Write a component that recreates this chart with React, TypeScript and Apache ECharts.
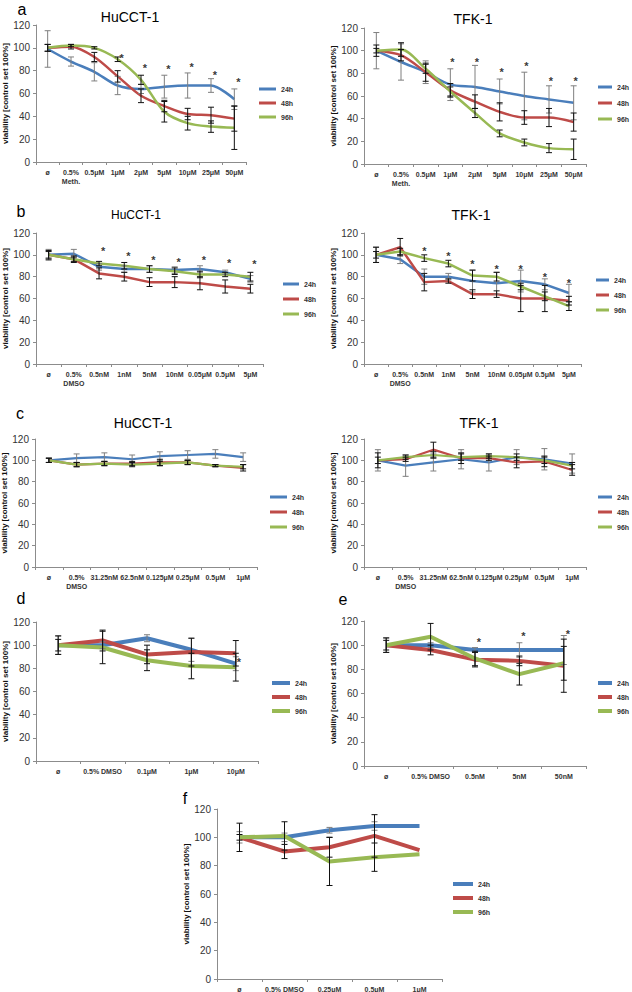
import React, { useEffect, useRef } from "react";
import * as echarts from "echarts";

const C24 = "#4A7EBB";
const C48 = "#BE4B48";
const C96 = "#98B954";
const FONT = "Liberation Sans, Arial, sans-serif";
const NAMES = ["24h", "48h", "96h"];
const Y_NAME = "viability [control set 100%]";

// ---- Panel a (HuCCT-1 / TFK-1)
const catsA = ["ø", "0.5%\nMeth.", "0.5μM", "1μM", "2μM", "5μM", "10μM", "25μM", "50μM"];
const aHu24 = [99, 88, 79, 67, 64, 66, 67, 67, 55];
const aHu48 = [100, 101, 92, 75, 58, 49, 42, 41, 38];
const aHu96 = [100, 102, 100, 90, 72, 44, 34, 31, 30];
const aHuErr24 = [16, 4, 8, 8, 4, 10, 11, 6, 9];
const aHuErr48 = [3, 2, 4, 5, 6, 5, 5, 7, 11];
const aHuErr96 = [3, 1, 1, 2, 4, 9, 6, 5, 19];
const aHuStars = [null, null, null, 94, 85, 84, 86, 79, 73];

const aTf24 = [100, 90, 81, 70, 68, 64, 60, 57, 54];
const aTf48 = [100, 96, 81, 65, 55, 46, 41, 41, 37];
const aTf96 = [100, 101, 84, 64, 45, 27, 19, 14, 13];
const aTfErr24 = [16, 16, 10, 14, 19, 11, 21, 12, 15];
const aTfErr48 = [5, 5, 8, 6, 6, 8, 6, 8, 8];
const aTfErr96 = [2, 6, 4, 4, 4, 3, 3, 4, 9];
const aTfStars = [null, null, null, 93, 93, 84, 89, 76, 76];

// ---- Panel b
const catsB = ["ø", "0.5%\nDMSO", "0.5nM", "1nM", "5nM", "10nM", "0.05μM", "0.5μM", "5μM"];
const bHu24 = [100, 101, 89, 87, 87, 86, 87, 84, 78];
const bHu48 = [100, 96, 83, 80, 75, 75, 74, 71, 69];
const bHu96 = [100, 96, 92, 90, 87, 85, 82, 82, 80];
const bHuErr24 = [5, 4, 3, 3, 3, 3, 3, 2, 3];
const bHuErr48 = [4, 3, 5, 4, 4, 5, 6, 6, 4];
const bHuErr96 = [3, 2, 2, 3, 3, 3, 3, 2, 4];
const bHuStars = [null, null, 106, 102, 98, 96, 98, 95, 94];

const bTf24 = [100, 96, 80, 80, 76, 74, 76, 73, 65];
const bTf48 = [100, 107, 75, 76, 64, 64, 60, 60, 58];
const bTf96 = [100, 103, 97, 92, 81, 80, 71, 62, 53];
const bTfErr24 = [7, 4, 7, 3, 10, 10, 10, 5, 8];
const bTfErr48 = [7, 8, 8, 2, 4, 3, 12, 12, 4];
const bTfErr96 = [3, 3, 3, 3, 5, 4, 3, 4, 4];
const bTfStars = [null, null, 106, 102, 94, 90, 90, 82, 77];

// ---- Panel c
const catsC = ["ø", "0.5%\nDMSO", "31.25nM", "62.5nM", "0.125μM", "0.25μM", "0.5μM", "1μM"];
const cHu24 = [100, 102, 103, 101, 104, 105, 106, 103];
const cHu48 = [100, 96, 97, 97, 98, 98, 95, 93];
const cHu96 = [100, 96, 97, 96, 97, 98, 95, 94];
const cHuErr24 = [2, 4, 4, 4, 4, 4, 4, 4];
const cHuErr48 = [2, 2, 2, 2, 3, 2, 1, 3];
const cHuErr96 = [2, 2, 2, 2, 2, 2, 1, 2];

const cTf24 = [100, 95, 98, 101, 98, 103, 101, 97];
const cTf48 = [100, 101, 110, 102, 102, 98, 99, 91];
const cTf96 = [100, 103, 105, 103, 104, 103, 100, 95];
const cTfErr24 = [10, 10, 8, 9, 8, 7, 10, 9];
const cTfErr48 = [7, 2, 7, 5, 2, 5, 5, 5];
const cTfErr96 = [3, 2, 3, 3, 2, 3, 3, 3];

// ---- Panel d
const catsD = ["ø", "0.5% DMSO", "0.1μM", "1μM", "10μM"];
const d24 = [100, 100, 106, 96, 84];
const d48 = [100, 104, 92, 94, 93];
const d96 = [100, 98, 87, 82, 81];
const dErr24 = [8, 3, 3, 10, 6];
const dErr48 = [5, 9, 8, 12, 11];
const dErr96 = [8, 14, 9, 11, 12];
const dStars = [null, null, null, null, 88];

// ---- Panel e
const catsE = ["ø", "0.5% DMSO", "0.5nM", "5nM", "50nM"];
const e24 = [100, 100, 96, 96, 96];
const e48 = [100, 96, 88, 87, 83];
const e96 = [100, 107, 89, 76, 85];
const eErr24 = [6, 2, 2, 6, 12];
const eErr48 = [6, 4, 6, 4, 22];
const eErr96 = [4, 11, 6, 9, 14];
const eStars = [null, null, 105, 110, 112];

// ---- Panel f
const catsF = ["ø", "0.5% DMSO", "0.25μM", "0,5μM", "1μM"];
const f24 = [100, 100, 105, 108, 108];
const f48 = [100, 90, 93, 101, 91];
const f96 = [100, 101, 83, 86, 88];
const fErr24 = [4, 3, 2, 3, 0];
const fErr48 = [10, 5, 7, 15, 0];
const fErr96 = [2, 10, 17, 10, 0];

type Panel = {
  cats: string[];
  vals: number[][];
  errs: number[][];
  stars: (number | null)[];
  grid: { left: number; top: number; width: number; height: number };
  smooth: boolean;
  lw: number;
  nameGap: number;
  starDx: number;
  legend: { left: number; top: number; w: number; h: number; gap: number };
};

const panels: Panel[] = [
  { cats: catsA, vals: [aHu24, aHu48, aHu96], errs: [aHuErr24, aHuErr48, aHuErr96], stars: aHuStars,
    grid: { left: 36, top: 25, width: 210, height: 137 }, smooth: true, lw: 2.5, nameGap: 26, starDx: 4,
    legend: { left: 259, top: 84, w: 17, h: 3, gap: 4 } },
  { cats: catsA, vals: [aTf24, aTf48, aTf96], errs: [aTfErr24, aTfErr48, aTfErr96], stars: aTfStars,
    grid: { left: 364, top: 28, width: 222, height: 136 }, smooth: true, lw: 2.5, nameGap: 27, starDx: 2,
    legend: { left: 598, top: 82, w: 14, h: 3, gap: 6 } },
  { cats: catsB, vals: [bHu24, bHu48, bHu96], errs: [bHuErr24, bHuErr48, bHuErr96], stars: bHuStars,
    grid: { left: 36, top: 233, width: 227, height: 131 }, smooth: false, lw: 2.5, nameGap: 25, starDx: 4,
    legend: { left: 283, top: 279, w: 16, h: 3, gap: 5 } },
  { cats: catsB, vals: [bTf24, bTf48, bTf96], errs: [bTfErr24, bTfErr48, bTfErr96], stars: bTfStars,
    grid: { left: 364, top: 233, width: 217, height: 131 }, smooth: false, lw: 2.5, nameGap: 26, starDx: 0,
    legend: { left: 596, top: 275, w: 13, h: 3, gap: 5 } },
  { cats: catsC, vals: [cHu24, cHu48, cHu96], errs: [cHuErr24, cHuErr48, cHuErr96], stars: [],
    grid: { left: 35, top: 439, width: 222, height: 128 }, smooth: false, lw: 2.2, nameGap: 25, starDx: 0,
    legend: { left: 270, top: 492, w: 17, h: 3, gap: 5 } },
  { cats: catsC, vals: [cTf24, cTf48, cTf96], errs: [cTfErr24, cTfErr48, cTfErr96], stars: [],
    grid: { left: 364, top: 439, width: 222, height: 128 }, smooth: false, lw: 2.2, nameGap: 24, starDx: 0,
    legend: { left: 598, top: 492, w: 14, h: 3, gap: 5 } },
  { cats: catsD, vals: [d24, d48, d96], errs: [dErr24, dErr48, dErr96], stars: dStars,
    grid: { left: 36, top: 622, width: 222, height: 139 }, smooth: false, lw: 4, nameGap: 25, starDx: 3,
    legend: { left: 272, top: 678, w: 18, h: 4, gap: 4 } },
  { cats: catsE, vals: [e24, e48, e96], errs: [eErr24, eErr48, eErr96], stars: eStars,
    grid: { left: 364, top: 621, width: 222, height: 145 }, smooth: false, lw: 4, nameGap: 27, starDx: 4,
    legend: { left: 598, top: 678, w: 14, h: 4, gap: 4 } },
  { cats: catsF, vals: [f24, f48, f96], errs: [fErr24, fErr48, fErr96], stars: [],
    grid: { left: 217, top: 809, width: 225, height: 170 }, smooth: false, lw: 4, nameGap: 25, starDx: 0,
    legend: { left: 453, top: 879, w: 20, h: 4, gap: 4 } },
];

const COLORS = [C24, C48, C96];
const ERR_COLORS = ["#7f7f7f", "#111111", "#111111"];

const titles = [
  { text: "HuCCT-1", x: 130, y: 17, size: 14 },
  { text: "TFK-1", x: 473, y: 19, size: 14 },
  { text: "HuCCT-1", x: 136, y: 215, size: 12 },
  { text: "TFK-1", x: 471, y: 215, size: 14 },
  { text: "HuCCT-1", x: 143, y: 423, size: 14 },
  { text: "TFK-1", x: 479, y: 423, size: 14 },
];
const letters = [
  { text: "a", x: 22, y: 9 },
  { text: "b", x: 21, y: 211 },
  { text: "c", x: 20, y: 413 },
  { text: "d", x: 21, y: 598 },
  { text: "e", x: 343, y: 599 },
  { text: "f", x: 185, y: 798 },
];

const errRender = (color: string) => (params: any, api: any) => {
  const x = api.value(0);
  const y = api.value(1);
  const e = api.value(2);
  if (!e) return null;
  const hi = api.coord([x, y + e]);
  const lo = api.coord([x, y - e]);
  const cw = 3;
  const st = { stroke: color, lineWidth: 1 };
  return {
    type: "group",
    children: [
      { type: "line", shape: { x1: hi[0], y1: hi[1], x2: lo[0], y2: lo[1] }, style: st },
      { type: "line", shape: { x1: hi[0] - cw, y1: hi[1], x2: hi[0] + cw, y2: hi[1] }, style: st },
      { type: "line", shape: { x1: lo[0] - cw, y1: lo[1], x2: lo[0] + cw, y2: lo[1] }, style: st },
    ],
  };
};

function buildOption() {
  const grid: any[] = [];
  const xAxis: any[] = [];
  const yAxis: any[] = [];
  const legend: any[] = [];
  const series: any[] = [];
  panels.forEach((p, i) => {
    grid.push({ ...p.grid, outerBoundsMode: "none", containLabel: false });
    xAxis.push({
      type: "category",
      gridIndex: i,
      data: p.cats,
      boundaryGap: true,
      axisLine: { lineStyle: { color: "#8c8c8c", width: 1 } },
      axisTick: { show: true, length: 3, lineStyle: { color: "#8c8c8c" } },
      axisLabel: { interval: 0, fontSize: 7, fontWeight: "bold", color: "#333", margin: 6, lineHeight: 9, fontFamily: FONT },
      splitLine: { show: false },
    });
    yAxis.push({
      type: "value",
      gridIndex: i,
      min: 0,
      max: 120,
      interval: 20,
      axisLine: { show: true, lineStyle: { color: "#8c8c8c", width: 1 } },
      axisTick: { show: true, length: 3, lineStyle: { color: "#8c8c8c" } },
      splitLine: { show: false },
      axisLabel: { fontSize: 10, color: "#333", margin: 6, fontFamily: FONT },
      name: Y_NAME,
      nameLocation: "middle",
      nameGap: p.nameGap,
      nameTextStyle: { fontSize: 8, fontWeight: "bold", color: "#111", fontFamily: FONT },
    });
    legend.push({
      orient: "vertical",
      left: p.legend.left,
      top: p.legend.top,
      padding: 0,
      itemWidth: p.legend.w,
      itemHeight: p.legend.h,
      itemGap: p.legend.gap,
      icon: "rect",
      selectedMode: false,
      data: NAMES,
      textStyle: { fontSize: 7, fontWeight: "bold", color: "#333", lineHeight: 10, fontFamily: FONT },
    });
    p.vals.forEach((v, k) => {
      series.push({
        type: "line",
        name: NAMES[k],
        xAxisIndex: i,
        yAxisIndex: i,
        data: v,
        symbol: "none",
        smooth: p.smooth ? 0.3 : false,
        color: COLORS[k],
        lineStyle: { width: p.lw, color: COLORS[k] },
        itemStyle: { color: COLORS[k] },
        z: 2,
      });
    });
    p.errs.forEach((e, k) => {
      series.push({
        type: "custom",
        name: "err" + k,
        xAxisIndex: i,
        yAxisIndex: i,
        data: p.vals[k].map((v, j) => [j, v, e[j]]),
        encode: { x: 0, y: 1 },
        renderItem: errRender(ERR_COLORS[k]),
        z: 3,
      });
    });
    const starData = p.stars
      .map((s, j) => (s == null ? null : [j, s]))
      .filter((d) => d != null);
    if (starData.length) {
      series.push({
        type: "scatter",
        name: "sig",
        xAxisIndex: i,
        yAxisIndex: i,
        data: starData,
        symbol: "circle",
        symbolSize: 1,
        itemStyle: { color: "rgba(0,0,0,0)" },
        label: {
          show: true,
          position: "inside",
          formatter: "*",
          fontSize: 11,
          fontWeight: "bold",
          color: "#000",
          offset: [p.starDx, 3],
          fontFamily: FONT,
        },
        z: 4,
      });
    }
  });

  const graphic: any[] = [];
  titles.forEach((t) => {
    graphic.push({
      type: "text",
      x: t.x,
      y: t.y,
      style: {
        text: t.text,
        font: `${t.size}px ${FONT}`,
        fill: "#000",
        align: "center",
        verticalAlign: "middle",
        textAlign: "center",
        textVerticalAlign: "middle",
      },
    });
  });
  letters.forEach((t) => {
    graphic.push({
      type: "text",
      x: t.x,
      y: t.y,
      style: {
        text: t.text,
        font: `16px ${FONT}`,
        fill: "#000",
        align: "center",
        verticalAlign: "middle",
        textAlign: "center",
        textVerticalAlign: "middle",
      },
    });
  });

  return {
    animation: false,
    backgroundColor: "#fff",
    textStyle: { fontFamily: FONT },
    grid,
    xAxis,
    yAxis,
    legend,
    series,
    graphic,
  };
}

export default function App() {
  const ref = useRef<HTMLDivElement>(null);
  useEffect(() => {
    if (!ref.current) return;
    const chart = echarts.init(ref.current, undefined, { renderer: "svg" });
    chart.setOption(buildOption() as any);
    return () => chart.dispose();
  }, []);
  return (
    <div
      ref={ref}
      style={{ position: "absolute", left: 0, top: 0, width: 632, height: 992, background: "#fff" }}
    />
  );
}
